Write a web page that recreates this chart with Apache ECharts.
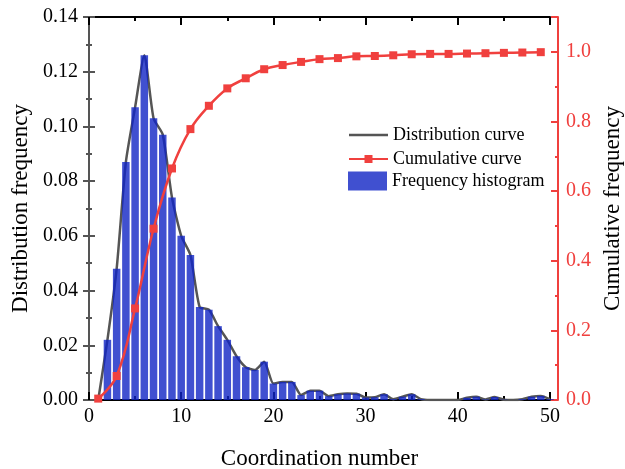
<!DOCTYPE html>
<html>
<head>
<meta charset="utf-8">
<script src="https://cdn.jsdelivr.net/npm/echarts@6.0.0/dist/echarts.min.js"></script>
<style>
    html, body { margin: 0; padding: 0; background: #fff; }
    #chart { width: 625px; height: 469px; }
</style>
</head>
<body>
<div id="chart"></div>
<script>
var coordNumbers = [1, 2, 3, 4, 5, 6, 7, 8, 9, 10,
    11, 12, 13, 14, 15, 16, 17, 18, 19, 20,
    21, 22, 23, 24, 25, 26, 27, 28, 29, 30,
    31, 32, 33, 34, 35, 36, 37, 38, 39, 40,
    41, 42, 43, 44, 45, 46, 47, 48, 49, 50]
var frequency = [0, 0.022, 0.048, 0.087, 0.107, 0.126, 0.103, 0.097, 0.074, 0.060,
    0.053, 0.034, 0.033, 0.027, 0.022, 0.016, 0.012, 0.011, 0.014, 0.006,
    0.0066, 0.0066, 0.0018, 0.0034, 0.0034, 0.0014, 0.0021, 0.0024, 0.0023, 0.0009,
    0.0010, 0.0021, 0.0003, 0.0012, 0.0021, 0.0003, 0, 0, 0, 0,
    0.0008, 0.0012, 0.0002, 0.0011, 0.0001, 0, 0.0003, 0.0012, 0.0015, 0.0003]
var cumulativeX = [1, 3, 5, 7, 9, 11, 13, 15, 17, 19, 21, 23, 25,
    27, 29, 31, 33, 35, 37, 39, 41, 43, 45, 47, 49]
var cumulative = [0.004, 0.069, 0.263, 0.492, 0.665, 0.778, 0.845, 0.895, 0.924, 0.950, 0.962, 0.971, 0.979,
    0.982, 0.987, 0.988, 0.990, 0.993, 0.994, 0.994, 0.995, 0.996, 0.997, 0.998, 0.999]

var font = 'Liberation Serif'
var red = '#f0403e'
var gray = '#555555'

var chart = echarts.init(document.getElementById('chart'))

var freqData = coordNumbers.map(function (x, i) { return [x, frequency[i]] })
var cumData = cumulativeX.map(function (x, i) { return [x, cumulative[i]] })

chart.setOption({
    animation: false,
    grid: {
        left: 89,
        right: 75,
        top: 17,
        bottom: 69,
        outerBoundsMode: 'none'
    },
    legend: [{
        left: 348,
        top: 125,
        padding: 0,
        orient: 'vertical',
        itemWidth: 39,
        itemHeight: 10,
        itemGap: 4,
        data: [
            { name: 'Distribution curve', icon: 'path://M0,0H39V2.5H0Z' },
            'Cumulative curve'
        ],
        textStyle: { fontFamily: font, fontSize: 18, color: '#000', lineHeight: 20 }
    }, {
        left: 348,
        top: 171,
        padding: 0,
        orient: 'vertical',
        itemWidth: 39,
        itemHeight: 19,
        data: [{ name: 'Frequency histogram', icon: 'rect' }],
        textStyle: { fontFamily: font, fontSize: 18, color: '#000', lineHeight: 20 }
    }],
    xAxis: [{
        type: 'value',
        position: 'bottom',
        min: 0,
        max: 50,
        interval: 10,
        name: 'Coordination number',
        nameLocation: 'middle',
        nameGap: 47,
        nameTextStyle: { fontFamily: font, fontSize: 23, color: '#000' },
        axisLine: { onZero: false, lineStyle: { color: '#000', width: 2 } },
        axisTick: { inside: true, length: 8, lineStyle: { color: '#000', width: 2 } },
        minorTick: { show: true, splitNumber: 2, length: 4, lineStyle: { color: '#000', width: 2 } },
        axisLabel: { fontFamily: font, fontSize: 20, color: '#000', margin: 7 },
        splitLine: { show: false }
    }, {
        type: 'value',
        position: 'top',
        min: 0,
        max: 50,
        interval: 10,
        axisLine: { onZero: false, lineStyle: { color: '#000', width: 2 } },
        axisTick: { inside: true, length: 8, lineStyle: { color: '#000', width: 2 } },
        minorTick: { show: true, splitNumber: 2, length: 4, lineStyle: { color: '#000', width: 2 } },
        axisLabel: { show: false },
        splitLine: { show: false }
    }],
    yAxis: [{
        type: 'value',
        position: 'left',
        min: 0,
        max: 0.14,
        interval: 0.02,
        name: 'Distribution frequency',
        nameLocation: 'middle',
        nameRotate: 90,
        nameGap: 54,
        nameTextStyle: { fontFamily: font, fontSize: 23, color: '#000' },
        axisLine: { show: true, onZero: false, lineStyle: { color: gray, width: 2 } },
        axisTick: { show: true, length: 6, lineStyle: { color: gray, width: 2 } },
        minorTick: { show: true, splitNumber: 2, length: 3, lineStyle: { color: gray, width: 2 } },
        axisLabel: {
            fontFamily: font, fontSize: 20, color: '#000', margin: 11,
            formatter: function (v) { return v.toFixed(2) }
        },
        splitLine: { show: false }
    }, {
        type: 'value',
        position: 'right',
        offset: 8,
        min: 0,
        max: 1.1,
        interval: 0.2,
        name: 'Cumulative frequency',
        nameLocation: 'middle',
        nameRotate: 90,
        nameGap: 43,
        nameTextStyle: { fontFamily: font, fontSize: 23, color: '#000' },
        axisLine: { show: true, onZero: false, lineStyle: { color: red, width: 2 } },
        axisTick: { show: true, inside: true, length: 7, lineStyle: { color: red, width: 2 } },
        minorTick: { show: true, splitNumber: 2, length: 3, lineStyle: { color: red, width: 2 } },
        axisLabel: {
            fontFamily: font, fontSize: 20, color: red, margin: 8, showMaxLabel: false,
            formatter: function (v) { return v.toFixed(1) }
        },
        splitLine: { show: false }
    }, {
        type: 'value',
        position: 'left',
        min: 0,
        max: 0.14,
        interval: 0.02,
        axisLine: { show: false, onZero: false },
        axisTick: { show: true, inside: true, length: 6, lineStyle: { color: gray, width: 2 } },
        minorTick: { show: true, splitNumber: 2, length: 3, lineStyle: { color: gray, width: 2 } },
        axisLabel: { show: false },
        splitLine: { show: false }
    }],
    series: [{
        name: 'Frequency histogram',
        type: 'bar',
        xAxisIndex: 0,
        yAxisIndex: 0,
        barWidth: 7.5,
        z: 3,
        data: freqData,
        itemStyle: { color: '#1024c4', opacity: 0.8 }
    }, {
        name: 'Distribution curve',
        type: 'line',
        xAxisIndex: 0,
        yAxisIndex: 0,
        symbol: 'none',
        smooth: 0.2,
        z: 2,
        data: freqData,
        lineStyle: { color: gray, width: 2.5 },
        itemStyle: { color: gray }
    }, {
        name: 'Cumulative curve',
        type: 'line',
        xAxisIndex: 0,
        yAxisIndex: 1,
        symbol: 'rect',
        symbolSize: 8,
        smooth: 0.4,
        z: 4,
        data: cumData,
        lineStyle: { color: red, width: 2.5 },
        itemStyle: { color: red }
    }]
})
</script>
</body>
</html>
